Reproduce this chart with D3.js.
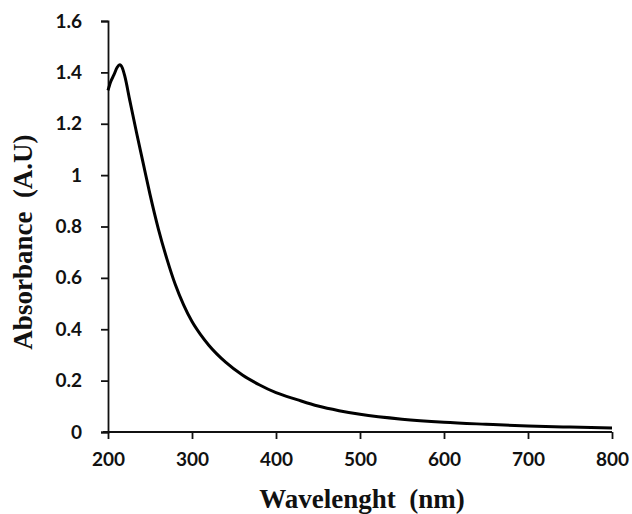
<!DOCTYPE html>
<html>
<head>
<meta charset="utf-8">
<script src="https://cdn.jsdelivr.net/npm/d3@7"></script>
<style>
  body { margin: 0; background: #fff; }
  svg { display: block; }
  .tick text { font-family: Lato, "Open Sans", sans-serif; font-weight: bold; font-size: 19px; fill: #111; }
  .title { font-family: "Liberation Serif", "DejaVu Serif", serif; font-weight: bold; font-size: 27px; fill: #111; white-space: pre; }
</style>
</head>
<body>
<svg id="chart" width="632" height="514"></svg>
<script>
// UV-vis spectrum
var wavelength = [200, 203, 207, 211, 214, 217, 220, 226, 234, 242, 250, 260, 270, 280, 290, 300, 310,
                  320, 340, 360, 380, 400, 425, 450, 475, 500, 550, 600, 650, 700, 750, 800];
var absorbance = [1.33, 1.362, 1.39, 1.42, 1.43, 1.418, 1.385, 1.29, 1.165, 1.045, 0.925, 0.79, 0.675, 0.575, 0.495, 0.43, 0.38,
                  0.338, 0.272, 0.222, 0.184, 0.153, 0.126, 0.101, 0.083, 0.069, 0.05, 0.038, 0.03, 0.023, 0.019, 0.016];
var xTicks = [200, 300, 400, 500, 600, 700, 800];
var yTicks = [0, 0.2, 0.4, 0.6, 0.8, 1, 1.2, 1.4, 1.6];

var svg = d3.select("#chart");
var margin = {left: 108, right: 20, top: 21, bottom: 82};
var width = 612 - margin.left, height = 432 - margin.top;

var x = d3.scaleLinear().domain([200, 800]).range([0, width]);
var y = d3.scaleLinear().domain([0, 1.6]).range([height, 0]);

var g = svg.append("g").attr("transform", "translate(" + margin.left + "," + margin.top + ")");

var xAxis = g.append("g")
  .attr("transform", "translate(0," + height + ")")
  .call(d3.axisBottom(x).tickValues(xTicks).tickFormat(d3.format("d")).tickSizeOuter(0).tickSize(7).tickPadding(14));
var yAxis = g.append("g")
  .call(d3.axisLeft(y).tickValues(yTicks).tickFormat(function(d) { return d === 0 ? "0" : d3.format("")(+d.toFixed(1)); })
        .tickSizeOuter(0).tickSize(7).tickPadding(19));

[xAxis, yAxis].forEach(function(a) {
  a.select(".domain").attr("stroke", "#111").attr("stroke-width", 1.8);
  a.selectAll(".tick line").attr("stroke", "#111").attr("stroke-width", 1.8);
});
// x axis line reaches a bit left of the y axis, like the original
xAxis.select(".domain").attr("d", "M-5,0H" + width);

var line = d3.line()
  .x(function(d, i) { return x(wavelength[i]); })
  .y(function(d) { return y(d); })
  .curve(d3.curveMonotoneX);

g.append("path")
  .datum(absorbance)
  .attr("fill", "none")
  .attr("stroke", "#000")
  .attr("stroke-width", 3)
  .attr("stroke-linejoin", "round")
  .attr("d", line);

svg.append("text").attr("class", "title")
  .attr("x", 362).attr("y", 508).attr("text-anchor", "middle")
  .text("Wavelenght  (nm)");

svg.append("text").attr("class", "title")
  .attr("transform", "translate(32,242) rotate(-90)")
  .attr("text-anchor", "middle")
  .text("Absorbance  (A.U)");
</script>
</body>
</html>
